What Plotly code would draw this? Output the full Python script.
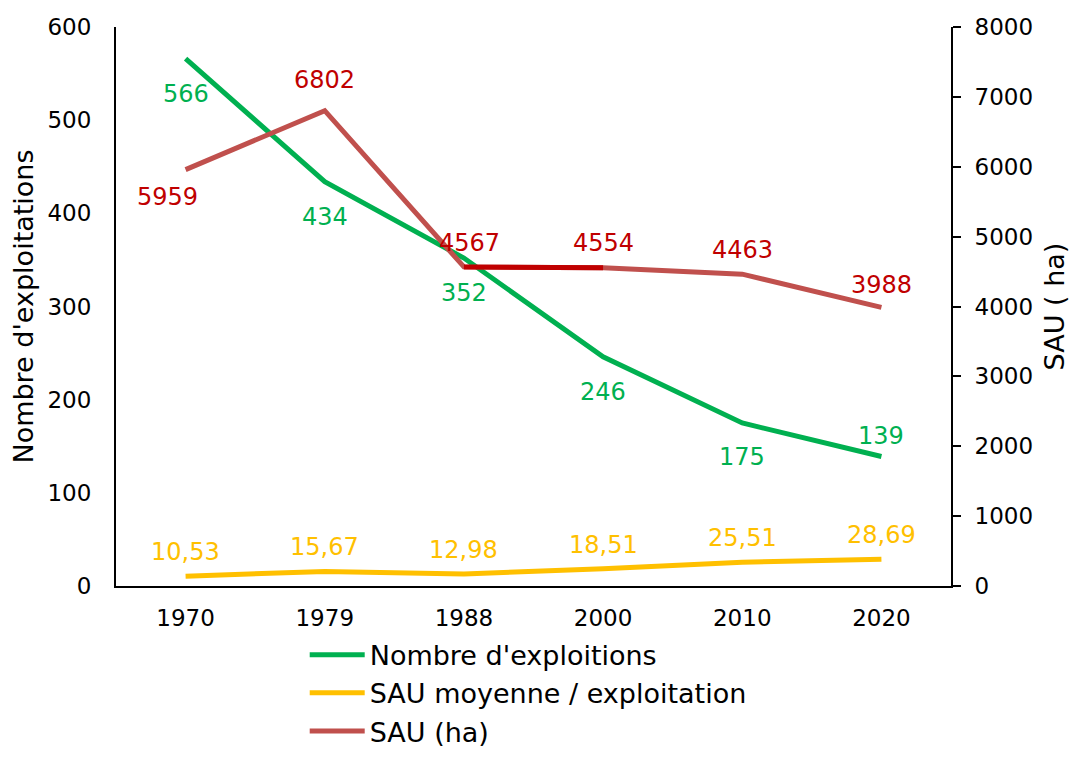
import plotly.graph_objects as go

years = ['1970', '1979', '1988', '2000', '2010', '2020']
nb_exploitations = [566, 434, 352, 246, 175, 139]
sau_moyenne = [10.53, 15.67, 12.98, 18.51, 25.51, 28.69]
sau_ha = [5959, 6802, 4567, 4554, 4463, 3988]

GREEN = '#00B050'
YELLOW = '#FFC000'
RED_LINE = '#C0504D'
RED_TXT = '#C00000'
FONT = 'DejaVu Sans'

fig = go.Figure()
fig.add_trace(go.Scatter(x=years, y=nb_exploitations, mode='lines', name="Nombre d'exploitions",
                         line=dict(color=GREEN, width=5), yaxis='y'))
fig.add_trace(go.Scatter(x=years, y=sau_moyenne, mode='lines', name='SAU moyenne / exploitation',
                         line=dict(color=YELLOW, width=5), yaxis='y'))
fig.add_trace(go.Scatter(x=years, y=sau_ha, mode='lines', name='SAU (ha)',
                         line=dict(color=RED_LINE, width=5), yaxis='y2'))
# darker segment 1988 -> 2000
fig.add_trace(go.Scatter(x=years[2:4], y=sau_ha[2:4], mode='lines', showlegend=False,
                         line=dict(color=RED_TXT, width=5), yaxis='y2'))

# data labels (x given as category index)
green_shift = [-35, -35, -35, -35, -34, 21]
red_shift = [-27, 31, 24, 25, 24, 22]
red_xshift = [-18, 0, 6, 0, 0, 0]
annots = []
for i, yr in enumerate(years):
    annots.append(dict(x=i, y=nb_exploitations[i], yref='y', text=str(nb_exploitations[i]),
                       yshift=green_shift[i], font=dict(color=GREEN)))
    annots.append(dict(x=i, y=sau_moyenne[i], yref='y', text=f"{sau_moyenne[i]:.2f}".replace('.', ','),
                       yshift=24, font=dict(color=YELLOW)))
    annots.append(dict(x=i, y=sau_ha[i], yref='y2', text=str(sau_ha[i]),
                       yshift=red_shift[i], xshift=red_xshift[i], font=dict(color=RED_TXT)))
for a in annots:
    a.update(xref='x', showarrow=False)
    a['font'].update(size=24, family=FONT)

fig.update_layout(
    width=1062, height=742,
    paper_bgcolor='white', plot_bgcolor='white',
    font=dict(family=FONT, size=23, color='black'),
    margin=dict(l=108, r=119, t=19, b=164, autoexpand=False),
    annotations=annots,
    xaxis=dict(type='category', range=[-0.5, 5.5], showline=True, linecolor='black', linewidth=2,
               ticks='', showgrid=False, tickfont=dict(size=23), ticklabelstandoff=10),
    yaxis=dict(range=[0, 600], dtick=100, showline=True, linecolor='black', linewidth=2,
               ticks='', showgrid=False, zeroline=False, tickfont=dict(size=23), ticklabelstandoff=18,
               title=dict(text="Nombre d'exploitations", font=dict(size=27), standoff=8)),
    yaxis2=dict(range=[0, 8000], dtick=1000, overlaying='y', side='right', showline=True,
                linecolor='black', linewidth=2, ticks='outside', ticklen=8, tickwidth=2,
                tickcolor='black', showgrid=False, zeroline=False, tickfont=dict(size=23),
                ticklabelstandoff=9,
                title=dict(text='SAU ( ha)', font=dict(size=27), standoff=28)),
    legend=dict(x=0.226, y=-0.08, xanchor='left', yanchor='top', font=dict(size=27),
                bgcolor='rgba(0,0,0,0)', tracegroupgap=0, itemwidth=55),
)

fig.write_html("out.html")
